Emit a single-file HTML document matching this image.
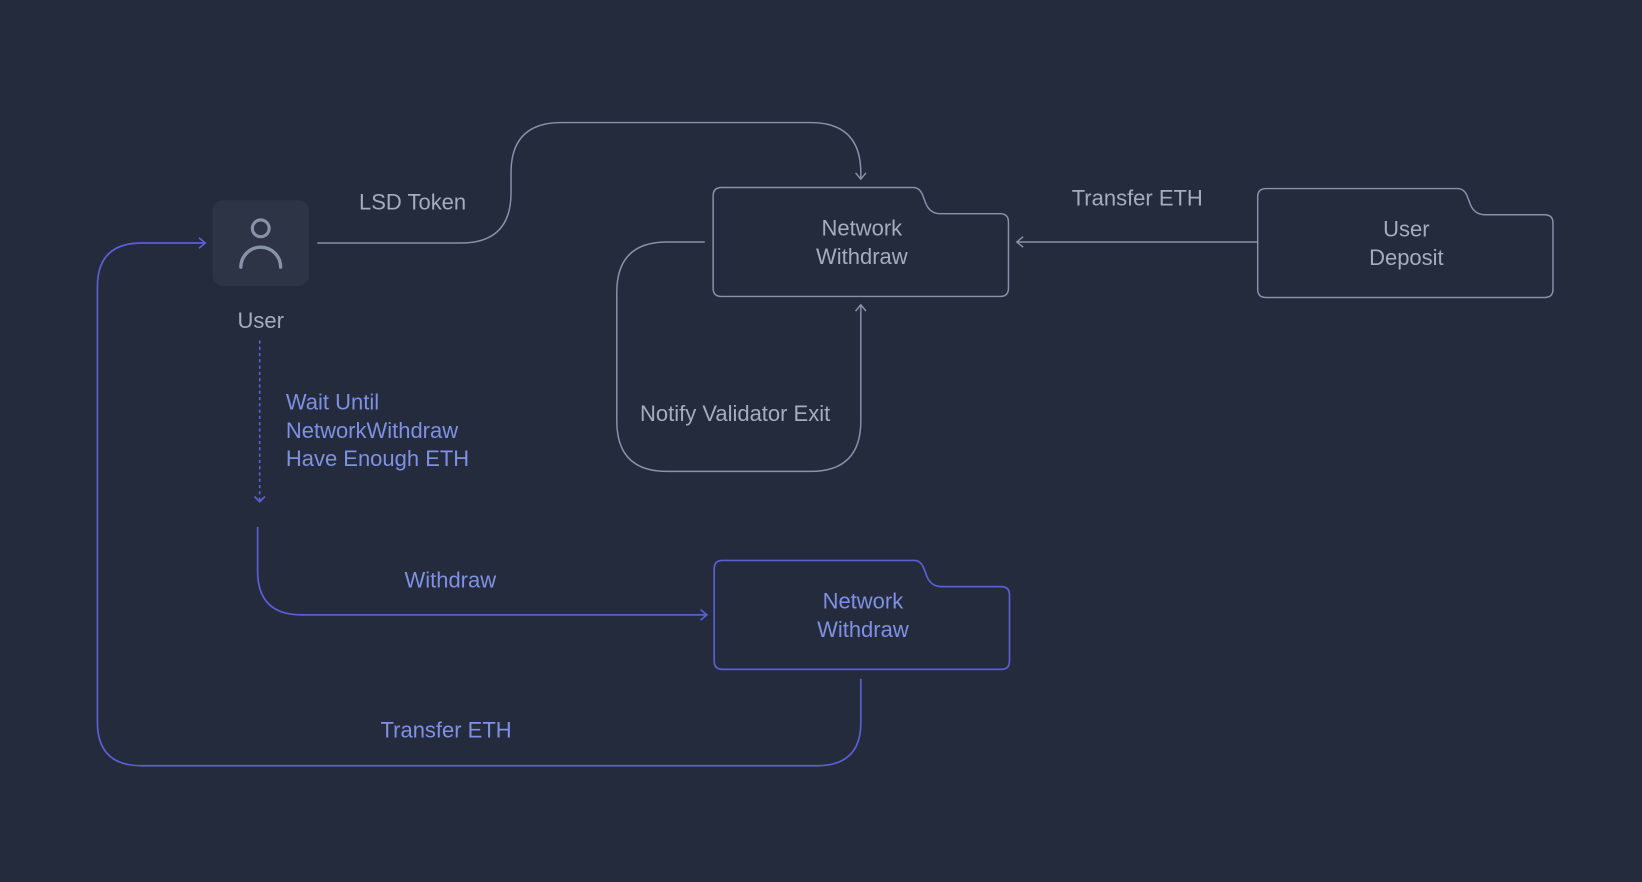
<!DOCTYPE html>
<html><head><meta charset="utf-8"><style>
html,body{margin:0;padding:0;background:#232b3d;}
svg{display:block;}
text{font-family:"Liberation Sans",sans-serif;font-size:21px;}
</style></head><body>
<svg width="1642" height="882" viewBox="0 0 1568 842" preserveAspectRatio="none" xmlns="http://www.w3.org/2000/svg">
<rect width="1568" height="842" fill="#232b3d"/>
<g fill="none" stroke="#8a93a6" stroke-width="1.4">
 <!-- folder 1 -->
 <path d="M689,179 H872 Q878,179 881,186 L884,194 Q888,204 898,204 H955 Q963,204 963,212 V275 Q963,283 955,283 H689 Q681,283 681,275 V187 Q681,179 689,179 Z"/>
 <!-- folder user deposit -->
 <path d="M1209,180 H1392 Q1398,180 1401,187 L1404,195 Q1408,205 1418,205 H1475 Q1483,205 1483,213 V276 Q1483,284 1475,284 H1209 Q1201,284 1201,276 V188 Q1201,180 1209,180 Z"/>
 <path d="M303,232 H440 Q488,232 488,184 V165 Q488,117 536,117 H774 Q822,117 822,165 V171"/>
 <path d="M817,165 L822,171 L827,165"/>
 <path d="M1201,231 H971"/>
 <path d="M977,226 L971,231 L977,236"/>
 <path d="M673,231 H637 Q589,231 589,279 V402 Q589,450 637,450 H774 Q822,450 822,402 V291"/>
 <path d="M817,297 L822,291 L827,297"/>
</g>
<g fill="none" stroke="#5b5fd2" stroke-width="1.6">
 <path d="M690,535 H873 Q879,535 882,542 L885,550 Q889,560 899,560 H956 Q964,560 964,568 V631 Q964,639 956,639 H690 Q682,639 682,631 V543 Q682,535 690,535 Z"/>
 <path d="M248,325 V479" stroke-dasharray="3,3"/>
 <path d="M243,474 L248,479 L253,474"/>
 <path d="M246,503 V545 Q246,587 288,587 H675"/>
 <path d="M669,582 L675,587 L669,592"/>
 <path d="M822,648 V690 Q822,731 780,731 H135 Q93,731 93,689 V274 Q93,232 135,232 H196"/>
 <path d="M190,227 L196,232 L190,237"/>
</g>
<rect x="203" y="191" width="92" height="82" rx="10" fill="#2c3445"/>
<circle cx="249" cy="218" r="8" fill="none" stroke="#8a93a6" stroke-width="3"/>
<path d="M230,255 A19,19 0 0 1 268,255" fill="none" stroke="#8a93a6" stroke-width="3.2" stroke-linecap="round"/>
<g fill="#a4acbd">
 <text x="249" y="313" text-anchor="middle">User</text>
 <text x="394" y="200" text-anchor="middle">LSD Token</text>
 <text x="823" y="225" text-anchor="middle">Network</text>
 <text x="823" y="252" text-anchor="middle">Withdraw</text>
 <text x="1086" y="196" text-anchor="middle">Transfer ETH</text>
 <text x="1343" y="226" text-anchor="middle">User</text>
 <text x="1343" y="253" text-anchor="middle">Deposit</text>
 <text x="702" y="402" text-anchor="middle">Notify Validator Exit</text>
</g>
<g fill="#8090e2">
 <text x="273" y="391">Wait Until</text>
 <text x="273" y="418">NetworkWithdraw</text>
 <text x="273" y="445">Have Enough ETH</text>
 <text x="430" y="561" text-anchor="middle">Withdraw</text>
 <text x="824" y="581" text-anchor="middle">Network</text>
 <text x="824" y="608" text-anchor="middle">Withdraw</text>
 <text x="426" y="704" text-anchor="middle">Transfer ETH</text>
</g>
</svg>
</body></html>
